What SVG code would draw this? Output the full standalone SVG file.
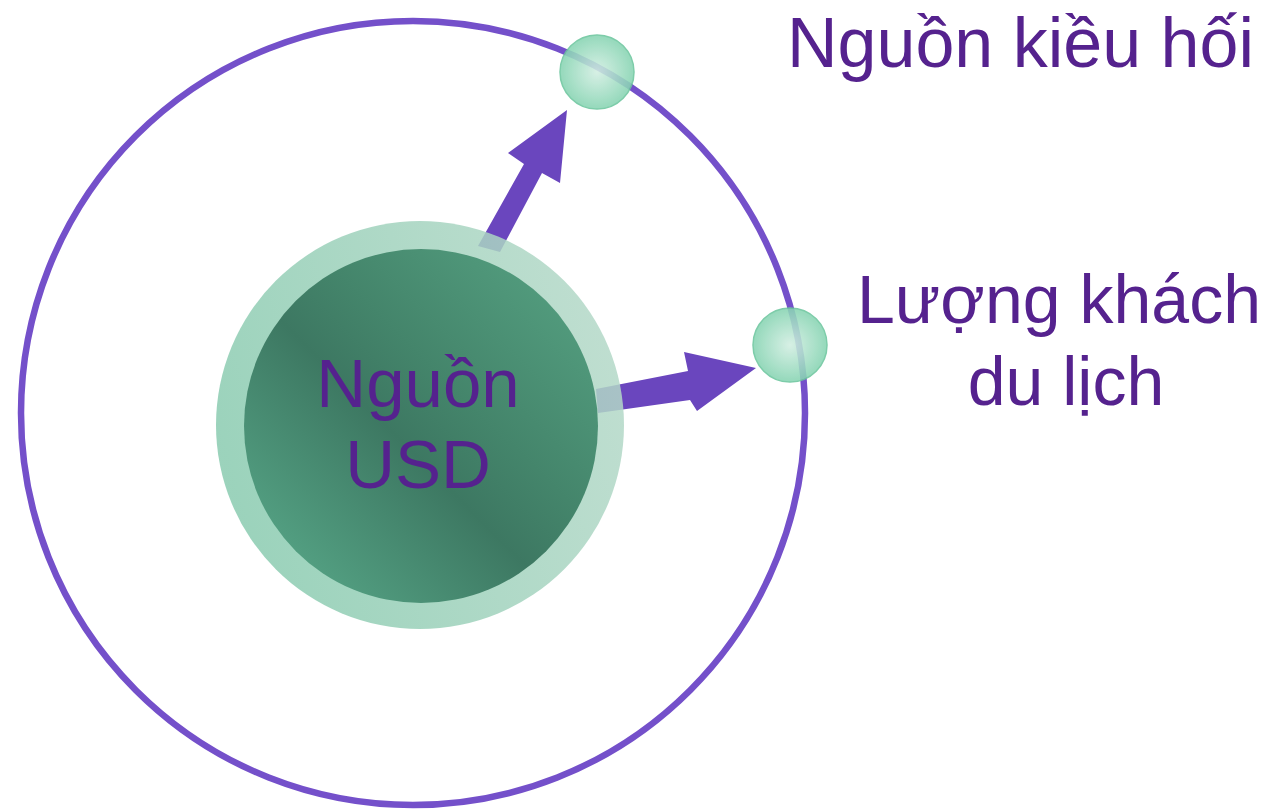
<svg xmlns="http://www.w3.org/2000/svg" width="1280" height="810" viewBox="0 0 1280 810">
  <defs>
    <style>
      .lbl { font-family: "Liberation Sans", Arial, sans-serif; fill: #55228e; }
      .arrow { fill: #6a46be; }
      .orbit { fill: none; stroke: #7450ca; stroke-width: 6.5; }
      .dot { fill: url(#dotGrad); stroke: #6cc69e; stroke-width: 1.5; opacity: 0.88; }
    </style>
    <linearGradient id="coreGrad" x1="0" y1="1" x2="1" y2="0">
      <stop offset="0" stop-color="#5cb08f"/>
      <stop offset="0.45" stop-color="#3d7862"/>
      <stop offset="0.6" stop-color="#44856b"/>
      <stop offset="1" stop-color="#58a585"/>
    </linearGradient>
    <linearGradient id="ringGrad" x1="0" y1="0.5" x2="1" y2="0.2">
      <stop offset="0" stop-color="#8acbb0"/>
      <stop offset="1" stop-color="#b6d9c9"/>
    </linearGradient>
    <radialGradient id="dotGrad" cx="0.5" cy="0.5" r="0.5">
      <stop offset="0" stop-color="#d2eee2"/>
      <stop offset="1" stop-color="#86d4b2"/>
    </radialGradient>
  </defs>

  <g id="orbit">
    <circle class="orbit" cx="413" cy="413" r="392"/>
  </g>

  <g id="connectors">
    <polygon class="arrow" points="478,246 524,164 508,153 567,110 560,183 542,173 500,252"/>
    <polygon class="arrow" points="596,389 688,371 684,352 756,368 697,411 690,400 598,413"/>
  </g>

  <g id="usd">
    <circle cx="420" cy="425" r="204" fill="url(#ringGrad)" opacity="0.85"/>
    <circle cx="421" cy="426" r="177" fill="url(#coreGrad)"/>
    <text class="lbl" x="418" y="407" font-size="69" text-anchor="middle">Nguồn</text>
    <text class="lbl" x="418" y="488" font-size="69" text-anchor="middle">USD</text>
  </g>

  <g id="kieuhoi">
    <circle class="dot" cx="597" cy="72" r="37"/>
    <text class="lbl" x="1254" y="67" font-size="70" text-anchor="end">Nguồn kiều hối</text>
  </g>

  <g id="dulich">
    <circle class="dot" cx="790" cy="345" r="37"/>
    <text class="lbl" x="1059" y="323" font-size="68" text-anchor="middle">Lượng khách</text>
    <text class="lbl" x="1066" y="405" font-size="68" text-anchor="middle">du lịch</text>
  </g>
</svg>
